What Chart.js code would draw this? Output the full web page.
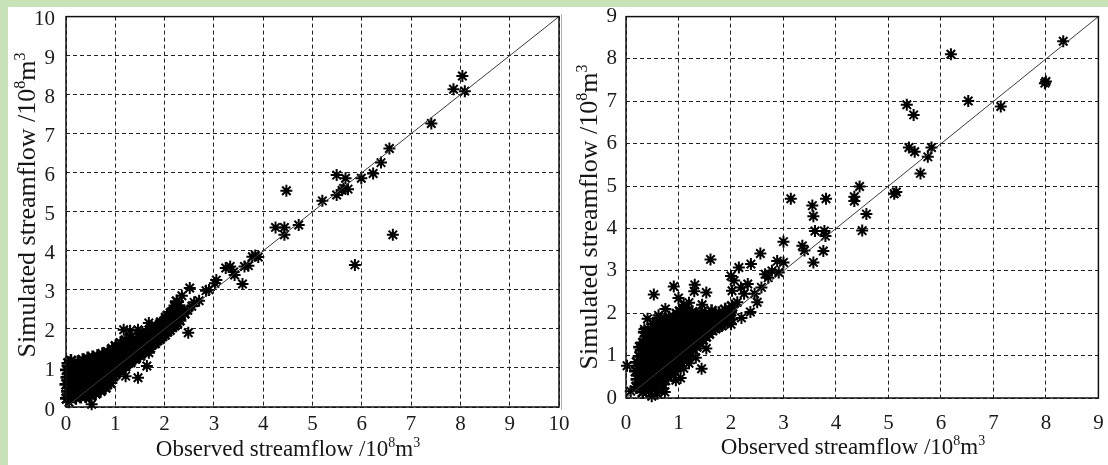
<!DOCTYPE html>
<html>
<head>
<meta charset="utf-8">
<script src="https://cdn.jsdelivr.net/npm/chart.js@4.4.1/dist/chart.umd.min.js"></script>
<style>
html, body { margin: 0; padding: 0; }
body { width: 1108px; height: 465px; background: #c8e3b8; position: relative; overflow: hidden; }
#sheet { position: absolute; left: 8px; top: 7px; right: 0; bottom: 0; background: #fff; }
.box { position: absolute; }
#divider { position: absolute; left: 561px; top: 14px; width: 1px; height: 396px; background: #b0b0b0; }
</style>
</head>
<body>
<div id="sheet"></div>
<div id="divider"></div>
<div class="box" style="left:563px;top:7px;width:545px;height:458px"><canvas id="chartB"></canvas></div>
<div class="box" style="left:8px;top:7px;width:567px;height:458px"><canvas id="chartA"></canvas></div>
<script>
// left panel: observed vs simulated (many small flows)
var leftTicks = [0, 1, 2, 3, 4, 5, 6, 7, 8, 9, 10];
var leftCluster = [
    [0.02,0.22],[0.04,0.4],[0.01,0.58],[0.03,0.76],[0.02,0.95],[0.05,1.12],
    [0.1,0.3],[0.13,0.48],[0.09,0.66],[0.12,0.85],[0.14,1.02],[0.1,1.18],
    [0.2,0.24],[0.22,0.42],[0.18,0.6],[0.23,0.78],[0.2,0.96],[0.24,1.14],
    [0.3,0.27],[0.31,0.45],[0.28,0.63],[0.33,0.82],[0.3,1.0],[0.34,1.2],
    [0.4,0.28],[0.42,0.47],[0.38,0.66],[0.43,0.85],[0.4,1.04],[0.44,1.24],
    [0.5,0.3],[0.51,0.5],[0.48,0.7],[0.53,0.9],[0.5,1.08],[0.54,1.27],
    [0.6,0.35],[0.62,0.55],[0.58,0.74],[0.63,0.94],[0.6,1.12],[0.64,1.3],
    [0.7,0.42],[0.72,0.6],[0.68,0.8],[0.73,0.98],[0.7,1.16],[0.74,1.35],
    [0.8,0.5],[0.83,0.68],[0.79,0.86],[0.84,1.04],[0.8,1.22],[0.85,1.4],
    [0.9,0.62],[0.92,0.8],[0.88,0.98],[0.93,1.16],[0.9,1.34],[0.94,1.48],
    [1.0,0.85],[1.02,1.02],[0.99,1.2],[1.03,1.38],[1.01,1.55],
    [1.1,0.95],[1.12,1.12],[1.09,1.3],[1.13,1.48],[1.11,1.63],
    [1.2,1.05],[1.22,1.22],[1.19,1.4],[1.23,1.57],[1.21,1.7],
    [1.3,1.15],[1.32,1.32],[1.29,1.49],[1.33,1.65],[1.31,1.78],
    [1.4,1.24],[1.42,1.4],[1.39,1.56],[1.43,1.72],
    [1.5,1.32],[1.52,1.48],[1.49,1.64],[1.53,1.8],
    [1.6,1.42],[1.62,1.58],[1.59,1.74],[1.63,1.88],
    [1.7,1.52],[1.72,1.68],[1.69,1.84],[1.73,1.96],
    [1.8,1.64],[1.82,1.8],[1.79,1.95],[1.83,2.06],
    [1.9,1.75],[1.92,1.9],[1.89,2.04],[1.93,2.16],
    [2.0,1.86],[2.02,2.0],[1.99,2.14],[2.03,2.28],
    [2.1,1.98],[2.12,2.12],[2.09,2.26],[2.13,2.4],
    [2.2,2.1],[2.22,2.24],[2.19,2.38],[2.23,2.55],
    [2.3,2.22],[2.32,2.38],[2.28,2.6],[2.4,2.4],[2.25,2.7],
    [0.05,0.3],[0.06,0.68],[0.07,1.05],[0.15,0.38],[0.16,0.75],[0.25,0.5],[0.26,0.9],
    [0.35,0.36],[0.36,0.74],[0.36,1.1],[0.46,0.4],[0.46,0.78],[0.47,1.16],[0.56,0.45],
    [0.56,0.84],[0.57,1.2],[0.66,0.5],[0.66,0.9],[0.67,1.25],[0.76,0.55],[0.77,0.92],
    [0.77,1.28],[0.87,0.7],[0.87,1.08],[0.96,0.8],[0.97,1.14],
    [1.05,0.95],[1.06,1.3],[1.15,1.05],[1.16,1.4],[1.25,1.15],[1.26,1.5],[1.35,1.25],
    [1.36,1.58],[1.45,1.35],[1.46,1.65],[1.55,1.42],[1.56,1.72],[1.65,1.52],[1.66,1.8],
    [1.75,1.62],[1.76,1.9],[1.85,1.72],[1.86,2.0],[1.95,1.82],[1.96,2.1],[2.05,1.94],
    [2.06,2.2],[2.15,2.05],[2.16,2.32],[2.25,2.15],[2.26,2.45]
];
var leftScatter = [
    [0.52,0.07],[0.06,0.12],[1.21,0.79],[1.46,0.75],[1.64,1.05],[1.68,1.39],
    [1.17,1.98],[1.46,1.98],[1.3,1.95],[1.68,2.15],[1.55,1.92],[2.05,2.35],[2.15,2.45],[2.2,2.6],
    [2.48,1.9],[2.51,3.05],[2.47,2.48],[2.55,2.58],[2.6,2.68],[2.35,2.85],[2.7,2.72],
    [2.84,2.98],[2.9,3.0],[3.02,3.17],[3.05,3.25],[3.24,3.56],[3.33,3.6],[3.4,3.46],
    [3.42,3.38],[3.58,3.15],[3.62,3.6],[3.7,3.62],[3.78,3.85],[3.84,3.88],[3.9,3.84],
    [4.25,4.6],[4.43,4.6],[4.43,4.41],[4.47,5.54],[4.72,4.66],[5.2,5.28],
    [5.49,5.94],[5.49,5.43],[5.6,5.55],[5.63,5.6],[5.67,5.86],[5.72,5.58],
    [5.86,3.64],[5.99,5.86],[6.23,5.98],[6.39,6.26],[6.56,6.62],[6.63,4.41],
    [7.41,7.26],[7.86,8.14],[8.04,8.48],[8.09,8.09]
];

// right panel
var rightTicks = [0, 1, 2, 3, 4, 5, 6, 7, 8, 9];
var rightCluster = [
    [0.2,0.26],[0.22,0.44],[0.19,0.63],[0.21,0.84],
    [0.32,0.14],[0.3,0.34],[0.33,0.54],[0.31,0.74],[0.34,0.94],[0.3,1.13],[0.33,1.3],
    [0.44,0.18],[0.42,0.37],[0.45,0.56],[0.43,0.75],[0.46,0.93],[0.42,1.1],[0.45,1.28],[0.44,1.46],
    [0.56,0.24],[0.54,0.42],[0.57,0.6],[0.55,0.78],[0.58,0.96],[0.54,1.14],[0.57,1.32],[0.55,1.5],[0.58,1.67],
    [0.68,0.34],[0.66,0.52],[0.69,0.7],[0.67,0.88],[0.7,1.06],[0.66,1.24],[0.69,1.42],[0.67,1.6],[0.7,1.77],
    [0.8,0.5],[0.78,0.68],[0.81,0.86],[0.79,1.04],[0.82,1.22],[0.78,1.4],[0.81,1.58],[0.79,1.75],[0.82,1.9],
    [0.92,0.64],[0.9,0.82],[0.93,1.0],[0.91,1.18],[0.94,1.36],[0.9,1.54],[0.93,1.72],[0.91,1.9],
    [1.04,0.84],[1.02,1.02],[1.05,1.2],[1.03,1.38],[1.06,1.56],[1.02,1.74],[1.05,1.92],[1.03,2.04],
    [1.16,1.0],[1.14,1.18],[1.17,1.36],[1.15,1.54],[1.18,1.72],[1.14,1.9],[1.17,2.05],
    [1.28,1.15],[1.26,1.32],[1.29,1.5],[1.27,1.68],[1.3,1.86],[1.26,2.02],
    [1.4,1.3],[1.38,1.48],[1.41,1.66],[1.39,1.84],[1.42,2.0],
    [1.52,1.45],[1.5,1.62],[1.53,1.8],[1.51,1.96],
    [1.64,1.6],[1.62,1.76],[1.65,1.92],[1.63,2.05],
    [1.76,1.7],[1.74,1.86],[1.77,2.0],
    [1.88,1.78],[1.86,1.94],[1.89,2.08],
    [2.0,1.86],[1.98,2.02],[2.02,2.16],
    [0.26,0.35],[0.27,0.55],[0.25,0.75],[0.26,0.98],[0.27,1.2],
    [0.38,0.25],[0.37,0.45],[0.39,0.65],[0.38,0.85],[0.37,1.03],[0.39,1.2],[0.38,1.38],[0.36,1.55],
    [0.5,0.28],[0.49,0.47],[0.51,0.66],[0.5,0.85],[0.48,1.03],[0.51,1.22],[0.5,1.4],[0.49,1.58],[0.52,1.75],
    [0.62,0.3],[0.61,0.5],[0.63,0.68],[0.62,0.87],[0.6,1.05],[0.63,1.23],[0.62,1.41],[0.61,1.59],[0.63,1.8],
    [0.74,0.42],[0.73,0.6],[0.75,0.78],[0.74,0.96],[0.72,1.14],[0.75,1.32],[0.74,1.5],[0.73,1.68],[0.75,1.85],
    [0.86,0.58],[0.85,0.76],[0.87,0.94],[0.86,1.12],[0.84,1.3],[0.87,1.48],[0.86,1.66],[0.85,1.83],
    [0.98,0.74],[0.97,0.92],[0.99,1.1],[0.98,1.28],[0.96,1.46],[0.99,1.64],[0.98,1.82],[0.97,1.98],
    [1.1,0.92],[1.09,1.1],[1.11,1.28],[1.1,1.46],[1.08,1.64],[1.11,1.82],[1.1,1.98],
    [1.22,1.08],[1.21,1.25],[1.23,1.42],[1.22,1.6],[1.2,1.78],[1.23,1.95],
    [1.34,1.22],[1.33,1.4],[1.35,1.58],[1.34,1.76],[1.32,1.93],
    [1.46,1.38],[1.45,1.55],[1.47,1.72],[1.46,1.9],
    [1.58,1.52],[1.57,1.7],[1.59,1.86],[1.7,1.65],[1.69,1.8],[1.71,1.95],
    [1.82,1.72],[1.81,1.88],[1.94,1.82],[1.93,1.98]
];
var rightScatter = [
    [0.02,0.76],[0.09,0.16],[0.49,0.04],[0.71,0.23],[0.74,0.14],[1.04,0.47],[1.44,0.69],[1.53,1.17],
    [1.2,0.82],[1.1,0.7],[1.33,0.95],[0.95,0.42],[0.6,0.1],
    [0.41,1.87],[0.53,2.44],[0.35,1.62],[0.62,1.95],[0.75,2.1],[0.91,2.63],[1.0,2.36],[1.1,2.2],
    [1.31,2.67],[1.3,2.52],[1.53,2.49],[1.61,3.27],[1.45,2.2],[1.2,2.25],
    [2.0,1.74],[2.2,1.89],[2.37,2.03],[2.5,2.26],[2.12,2.26],[2.25,2.46],[2.45,2.46],
    [2.02,2.53],[2.19,2.61],[2.32,2.69],[2.58,2.61],[2.06,2.77],[2.0,2.88],[2.71,2.84],
    [2.65,2.92],[2.78,3.0],[2.15,3.08],[2.38,3.16],[2.56,3.41],[2.88,3.23],[2.91,2.96],
    [3.0,3.2],[3.0,3.69],[3.36,3.59],[3.4,3.48],[3.57,3.2],[3.76,3.47],[3.6,3.94],
    [3.78,3.94],[3.8,3.82],[3.14,4.7],[3.55,4.54],[3.57,4.29],[3.81,4.7],
    [4.35,4.75],[4.35,4.65],[4.45,4.99],[4.58,4.34],[4.5,3.95],[5.11,4.82],[5.15,4.86],
    [5.61,5.3],[5.75,5.69],[5.82,5.91],[5.39,5.91],[5.5,5.81],[5.35,6.92],[5.48,6.68],
    [6.19,8.11],[6.52,7.01],[7.14,6.88],[8.0,7.47],[7.98,7.43],[8.33,8.42]
];

var xTitle = 'Observed streamflow /10';
var yTitle = 'Simulated streamflow /10';
var serif = "'Liberation Serif', 'Times New Roman', serif";

function toXY(list) {
    return list.map(function(p) { return { x: p[0], y: p[1] }; });
}

// text with superscript "8" and "3"
function drawUnitLabel(ctx, base, cx, cy, size, rotate) {
    var parts = [[base, false], ['8', true], ['m', false], ['3', true]];
    var big = size + 'px ' + serif, small = Math.round(size * 0.62) + 'px ' + serif;
    var total = 0;
    parts.forEach(function(p) { ctx.font = p[1] ? small : big; total += ctx.measureText(p[0]).width; });
    ctx.save();
    ctx.translate(cx, cy);
    if (rotate) ctx.rotate(-Math.PI / 2);
    ctx.fillStyle = '#161616';
    ctx.textBaseline = 'alphabetic';
    ctx.textAlign = 'left';
    var x = -total / 2;
    parts.forEach(function(p) {
        ctx.font = p[1] ? small : big;
        ctx.fillText(p[0], x, p[1] ? -size * 0.4 : 0);
        x += ctx.measureText(p[0]).width;
    });
    ctx.restore();
}

var framePlugin = {
    id: 'frame',
    afterDraw: function(chart, args, opts) {
        var ctx = chart.ctx, a = chart.chartArea;
        ctx.save();
        ctx.strokeStyle = '#111';
        ctx.lineWidth = 1.5;
        ctx.strokeRect(a.left, a.top, a.right - a.left, a.bottom - a.top);
        ctx.restore();
        drawUnitLabel(ctx, xTitle, opts.xTitleX, opts.xTitleY, opts.xSize, false);
        drawUnitLabel(ctx, yTitle, opts.yTitleX, opts.yTitleY, opts.ySize, true);
    }
};

function makeChart(id, cluster, scatter, ticks, s) {
    var max = ticks[ticks.length - 1];
    return new Chart(document.getElementById(id), {
        type: 'scatter',
        data: {
            datasets: [{
                data: [{ x: 0, y: 0 }, { x: max, y: max }],
                showLine: true,
                borderColor: '#3a3a3a',
                borderWidth: 1,
                pointRadius: 0
            }, {
                data: toXY(cluster),
                pointStyle: 'star',
                pointRadius: 7,
                borderColor: '#000',
                borderWidth: 2.6,
                clip: 8
            }, {
                data: toXY(scatter),
                pointStyle: 'star',
                pointRadius: 6,
                borderColor: '#000',
                borderWidth: 2,
                clip: 8
            }]
        },
        options: {
            responsive: true,
            maintainAspectRatio: false,
            animation: false,
            layout: { padding: { top: 7, right: s.padRight, left: 0, bottom: 0 } },
            plugins: {
                legend: { display: false },
                tooltip: { enabled: false },
                frame: s.titles
            },
            scales: {
                x: {
                    type: 'linear', min: 0, max: max,
                    afterBuildTicks: function(sc) { sc.ticks = ticks.map(function(v) { return { value: v }; }); },
                    afterFit: function(sc) { sc.height = s.xHeight; sc.paddingLeft = 0; sc.paddingRight = 0; },
                    grid: { color: '#222', lineWidth: 1, drawTicks: false },
                    border: { display: false, dash: [4, 3] },
                    ticks: { color: '#1a1a1a', padding: s.xPad, font: { family: serif, size: 21 } }
                },
                y: {
                    type: 'linear', min: 0, max: max,
                    afterBuildTicks: function(sc) { sc.ticks = ticks.map(function(v) { return { value: v }; }); },
                    afterFit: function(sc) { sc.width = s.yWidth; sc.paddingTop = 0; sc.paddingBottom = 0; },
                    grid: { color: '#222', lineWidth: 1, drawTicks: false },
                    border: { display: false, dash: [4, 3] },
                    ticks: { color: '#1a1a1a', padding: s.yPad, labelOffset: s.yOff, font: { family: serif, size: 21 } }
                }
            }
        },
        plugins: [framePlugin]
    });
}

makeChart('chartA', leftCluster, leftScatter, leftTicks, {
    padRight: 16, xHeight: 58, yWidth: 58, xPad: 5, yPad: 11, yOff: 3,
    titles: { xTitleX: 280, xTitleY: 449, xSize: 23, yTitleX: 27, yTitleY: 198, ySize: 26 }
});
makeChart('chartB', rightCluster, rightScatter, rightTicks, {
    padRight: 4, xHeight: 67, yWidth: 63, xPad: 13, yPad: 9, yOff: 0,
    titles: { xTitleX: 290, xTitleY: 447, xSize: 23, yTitleX: 34, yTitleY: 210, ySize: 26 }
});
</script>
</body>
</html>
